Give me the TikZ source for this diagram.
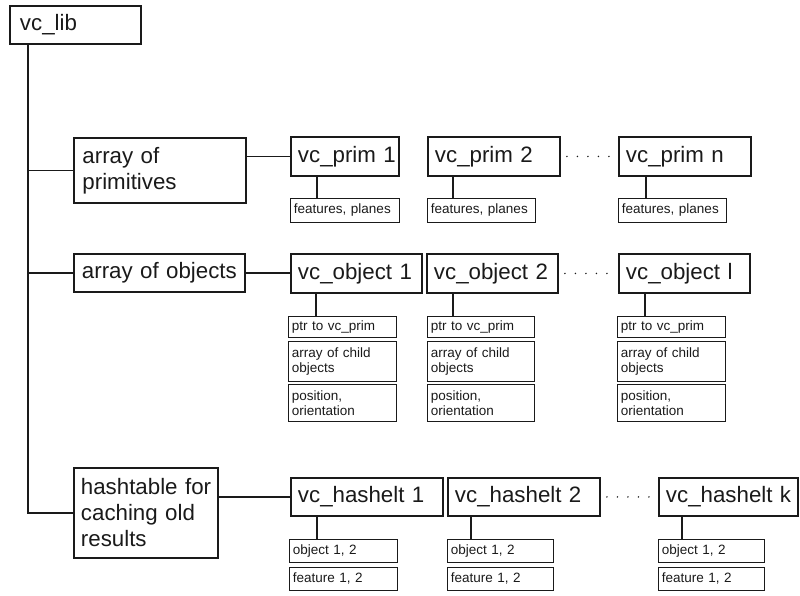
\documentclass[tikz,border=0pt]{standalone}
\usepackage{fontspec}
\setmainfont{Liberation Sans}
\usetikzlibrary{calc}
\definecolor{ink}{HTML}{1A1A1A}
\tikzset{
  x=1pt, y=-1pt,
  every node/.style={text=ink},
  % large labelled boxes: #1 = width, #2 = height
  big/.style 2 args={draw=ink, line width=1.9pt, anchor=north west,
    inner xsep=7pt, inner ysep=0pt, align=left,
    minimum width=#1pt, minimum height=#2pt, text width=#1pt-14pt,
    font=\fontsize{22.3}{26}\selectfont},
  % small field boxes
  field/.style 2 args={draw=ink, line width=0.9pt, anchor=north west,
    inner xsep=3.5pt, inner ysep=0pt, align=left,
    minimum width=#1pt, minimum height=#2pt, text width=#1pt-7pt,
    font=\fontsize{13.5}{15.5}\selectfont},
  conn/.style={draw=ink, line width=1.7pt},
  stem/.style={draw=ink, line width=1.6pt},
  dotrow/.style={draw=ink, line width=1.7pt, line cap=round,
    dash pattern=on 0pt off 10.5pt, shorten <=6pt, shorten >=5pt},
}
\begin{document}
\begin{tikzpicture}
\useasboundingbox (0,0) rectangle (800,596);

% root and the three tables
\node[big={131}{38}, inner xsep=10pt, text width=111pt] (lib) at (9,5) {vc\_lib};
\node[big={172}{65}, inner xsep=8.5pt, text width=155pt] (prims) at (73,137) {array~of\\primitives};
\node[big={171}{38}, inner xsep=8pt, text width=155pt] (objs) at (73,253) {array~of~objects};
\node[big={144}{90}] (hash) at (73,467) {hashtable~for\\caching~old\\results};

% trunk
\draw[conn] (lib.south west) ++(19,0) coordinate (t0) |- (hash.west);
\draw[conn] (t0 |- prims.west) -- (prims.west);
\draw[conn] (t0 |- objs.west) -- (objs.west);

% primitives
\node[big={108}{39}] (p1) at (290,136) {vc\_prim~1};
\node[big={132}{39}] (p2) at (427,136) {vc\_prim~2};
\node[big={132}{39}] (pn) at (618,136) {vc\_prim~n};
\node[field={109}{24}] (f1) at (290,198) {features,~planes};
\node[field={108}{24}] (f2) at (427,198) {features,~planes};
\node[field={108}{24}] (fn) at (618,198) {features,~planes};
\draw[conn] (p1.west -| prims.east) -- (p1.west);
\draw[dotrow] (p2.east) -- (pn.west);
\draw[stem] (p1.south west) ++(27,0) coordinate (sp1) -- (sp1 |- f1.north);
\draw[stem] (p2.south west) ++(26,0) coordinate (sp2) -- (sp2 |- f2.north);
\draw[stem] (pn.south west) ++(28,0) coordinate (spn) -- (spn |- fn.north);

% objects
\node[big={131}{39}] (o1) at (290,253) {vc\_object~1};
\node[big={131}{39}] (o2) at (426,253) {vc\_object~2};
\node[big={131}{39}] (ol) at (618,253) {vc\_object~l};
\draw[conn] (objs.east) -- (o1.west |- objs.east);
\draw[dotrow] (o2.east) -- (ol.west);

\node[field={108}{21}] (r1) at (288,316) {ptr~to~vc\_prim};
\node[field={108}{40}] (c1) at (288,341) {array~of~child\\objects};
\node[field={108}{37}] (q1) at (288,384) {position,\\orientation};
\node[field={107}{21}] (r2) at (427,316) {ptr~to~vc\_prim};
\node[field={107}{40}] (c2) at (427,341) {array~of~child\\objects};
\node[field={107}{37}] (q2) at (427,384) {position,\\orientation};
\node[field={108}{21}] (rl) at (617,316) {ptr~to~vc\_prim};
\node[field={108}{40}] (cl) at (617,341) {array~of~child\\objects};
\node[field={108}{37}] (ql) at (617,384) {position,\\orientation};
\draw[stem] (o1.south west) ++(26,0) coordinate (so1) -- (so1 |- r1.north);
\draw[stem] (o2.south west) ++(27,0) coordinate (so2) -- (so2 |- r2.north);
\draw[stem] (ol.south west) ++(27,0) coordinate (sol) -- (sol |- rl.north);

% hash elements
\node[big={152}{38}] (h1) at (290,477) {vc\_hashelt~1};
\node[big={152}{38}] (h2) at (447,477) {vc\_hashelt~2};
\node[big={139}{38}] (hk) at (658,477) {vc\_hashelt~k};
\draw[conn] (h1.west -| hash.east) -- (h1.west);
\draw[dotrow] (h2.east) -- (hk.west);

\node[field={108}{23}] (b1) at (289,539) {object~1,~2};
\node[field={108}{23}] (e1) at (289,567) {feature~1,~2};
\node[field={106}{23}] (b2) at (447,539) {object~1,~2};
\node[field={106}{23}] (e2) at (447,567) {feature~1,~2};
\node[field={106}{23}] (bk) at (658,539) {object~1,~2};
\node[field={106}{23}] (ek) at (658,567) {feature~1,~2};
\draw[stem] (h1.south west) ++(27,0) coordinate (sh1) -- (sh1 |- b1.north);
\draw[stem] (h2.south west) ++(24,0) coordinate (sh2) -- (sh2 |- b2.north);
\draw[stem] (hk.south west) ++(24,0) coordinate (shk) -- (shk |- bk.north);
\end{tikzpicture}
\end{document}
